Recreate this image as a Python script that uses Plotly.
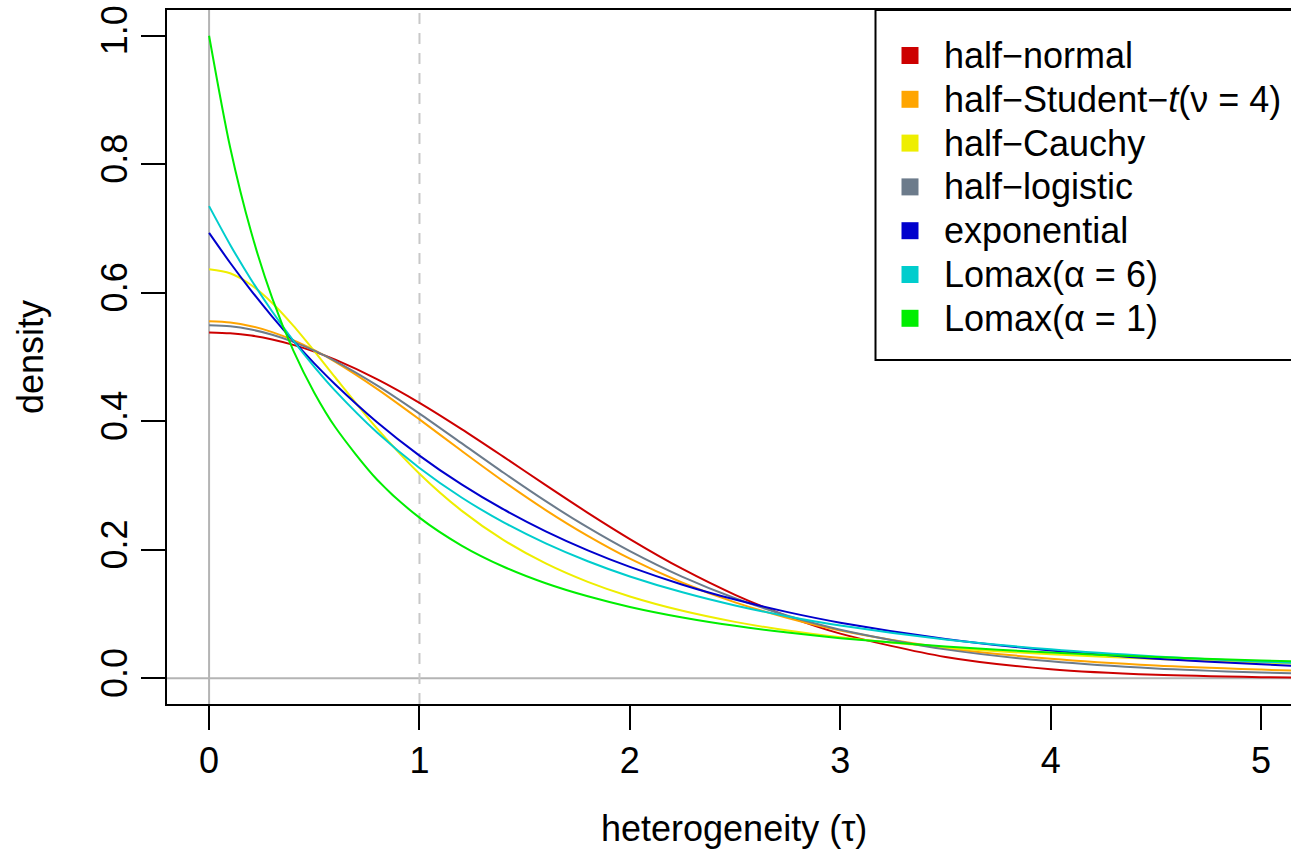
import plotly.graph_objects as go

# ---------------- data ----------------
tau = [0, 0.1, 0.2, 0.3, 0.4, 0.5, 0.6, 0.8, 1.0, 1.2, 1.4, 1.6, 1.8, 2.0,
       2.25, 2.5, 2.75, 3.0, 3.5, 4.0, 4.5, 5.0, 5.2]

half_normal = [0.5382, 0.5369, 0.5333, 0.5273, 0.5189, 0.5084, 0.4958, 0.4652,
               0.4287, 0.3878, 0.3446, 0.3006, 0.2575, 0.2167, 0.1701, 0.1299,
               0.0964, 0.0695, 0.0332, 0.0141, 0.0054, 0.0018, 0.0011]
half_student_t = [0.5555, 0.5536, 0.5480, 0.5387, 0.5262, 0.5106, 0.4925, 0.4501,
                  0.4029, 0.3540, 0.3063, 0.2618, 0.2216, 0.1861, 0.1487, 0.1182,
                  0.0938, 0.0744, 0.0472, 0.0305, 0.0200, 0.0135, 0.0115]
half_cauchy = [0.6366, 0.6303, 0.6121, 0.5841, 0.5488, 0.5093, 0.4681, 0.3882,
               0.3183, 0.2609, 0.2151, 0.1788, 0.1501, 0.1273, 0.1050, 0.0878,
               0.0743, 0.0637, 0.0480, 0.0374, 0.0300, 0.0245, 0.0227]
half_logistic = [0.5493, 0.5477, 0.5427, 0.5347, 0.5236, 0.5099, 0.4937, 0.4555,
                 0.4120, 0.3659, 0.3198, 0.2756, 0.2347, 0.1978, 0.1577, 0.1245,
                 0.0974, 0.0757, 0.0450, 0.0265, 0.0154, 0.0090, 0.0072]
exponential = [0.6931, 0.6467, 0.6034, 0.5630, 0.5253, 0.4901, 0.4573, 0.3981,
               0.3466, 0.3017, 0.2627, 0.2287, 0.1991, 0.1733, 0.1457, 0.1225,
               0.1030, 0.0866, 0.0613, 0.0433, 0.0306, 0.0217, 0.0189]
lomax_6 = [0.7348, 0.6748, 0.6203, 0.5708, 0.5257, 0.4847, 0.4473, 0.3820,
           0.3273, 0.2814, 0.2427, 0.2100, 0.1822, 0.1585, 0.1338, 0.1133,
           0.0963, 0.0822, 0.0605, 0.0451, 0.0340, 0.0259, 0.0233]
lomax_1 = [1.0000, 0.8264, 0.6944, 0.5917, 0.5102, 0.4444, 0.3906, 0.3086,
           0.2500, 0.2066, 0.1736, 0.1479, 0.1276, 0.1111, 0.0947, 0.0816,
           0.0711, 0.0625, 0.0494, 0.0400, 0.0331, 0.0278, 0.0260]

series_labels = ["half\u2212normal",
                 "half\u2212Student\u2212<i>t</i>(\u03bd = 4)",
                 "half\u2212Cauchy",
                 "half\u2212logistic",
                 "exponential",
                 "Lomax(\u03b1 = 6)",
                 "Lomax(\u03b1 = 1)"]
series_values = [half_normal, half_student_t, half_cauchy, half_logistic,
                 exponential, lomax_6, lomax_1]
series_colors = ["#CD0000", "#FFA500", "#EEEE00", "#6C7B8B",
                 "#0000CD", "#00CDCD", "#00EE00"]

x_ticks = [0, 1, 2, 3, 4, 5]
y_ticks = [0.0, 0.2, 0.4, 0.6, 0.8, 1.0]
y_ticklabels = ["0.0", "0.2", "0.4", "0.6", "0.8", "1.0"]

# ---------------- layout geometry ----------------
W, H = 1291, 849
ML, MR, MT, MB = 167, 0, 10, 145
PW = W - ML - MR
PH = H - MT - MB
FONT = "Liberation Sans, Arial, Helvetica, sans-serif"
FS = 36


def px_x(px):
    return (px - ML) / PW


def px_y(py):
    return (H - MB - py) / PH


fig = go.Figure()

for lab, vals, col in zip(series_labels, series_values, series_colors):
    fig.add_trace(go.Scatter(
        x=tau, y=vals, mode="lines", name=lab, showlegend=False,
        hoverinfo="skip",
        line=dict(color=col, width=2, shape="spline", smoothing=0.8)))

shapes = [
    dict(type="line", xref="x", yref="paper", x0=0, x1=0, y0=0, y1=1,
         line=dict(color="#b4b4b4", width=2), layer="below"),
    dict(type="line", xref="paper", yref="y", x0=0, x1=1, y0=0, y1=0,
         line=dict(color="#b4b4b4", width=2), layer="below"),
    dict(type="line", xref="x", yref="paper", x0=1, x1=1, y0=0, y1=1,
         line=dict(color="#c8c8c8", width=2, dash="11px,9px"), layer="below"),
    # legend box
    dict(type="rect", xref="paper", yref="paper",
         x0=px_x(875.5), x1=1.05, y0=px_y(360), y1=1.0,
         line=dict(color="black", width=2), fillcolor="white", layer="above"),
]

annotations = []
row0, dy = 55.5, 43.8
for i, (lab, col) in enumerate(zip(series_labels, series_colors)):
    cy = row0 + i * dy
    shapes.append(dict(type="rect", xref="paper", yref="paper",
                       x0=px_x(901.5), x1=px_x(918.5),
                       y0=px_y(cy + 8.5), y1=px_y(cy - 8.5),
                       line=dict(width=0), fillcolor=col, layer="above"))
    annotations.append(dict(xref="paper", yref="paper", x=px_x(942),
                            y=px_y(cy), text=lab, showarrow=False,
                            xanchor="left", yanchor="middle",
                            font=dict(family=FONT, size=FS, color="black")))

# axis titles
annotations.append(dict(xref="paper", yref="paper", x=px_x(734),
                        y=px_y(828), text="heterogeneity (\u03c4)",
                        showarrow=False, xanchor="center", yanchor="middle",
                        font=dict(family=FONT, size=FS, color="black")))
annotations.append(dict(xref="paper", yref="paper", x=px_x(30),
                        y=0.5, text="density", textangle=-90,
                        showarrow=False, xanchor="center", yanchor="middle",
                        font=dict(family=FONT, size=FS, color="black")))

fig.update_layout(
    width=W, height=H,
    margin=dict(l=ML, r=MR, t=MT, b=MB, pad=0),
    paper_bgcolor="white", plot_bgcolor="white",
    font=dict(family=FONT, size=FS, color="black"),
    shapes=shapes, annotations=annotations, showlegend=False,
    xaxis=dict(range=[-0.2, -0.2 + PW / 210.4], showgrid=False, zeroline=False,
               showline=True, linecolor="black", linewidth=2, mirror=True,
               ticks="outside", ticklen=24, tickwidth=2, tickcolor="black",
               tickvals=x_ticks, ticktext=[str(v) for v in x_ticks],
               tickfont=dict(family=FONT, size=FS, color="black")),
    yaxis=dict(range=[-0.04, 1.04], showgrid=False, zeroline=False,
               showline=True, linecolor="black", linewidth=2, mirror=False,
               ticks="outside", ticklen=24, tickwidth=2, tickcolor="black",
               tickvals=y_ticks, ticktext=y_ticklabels, tickangle=-90,
               tickfont=dict(family=FONT, size=FS, color="black")),
)

fig.write_html("out.html")
